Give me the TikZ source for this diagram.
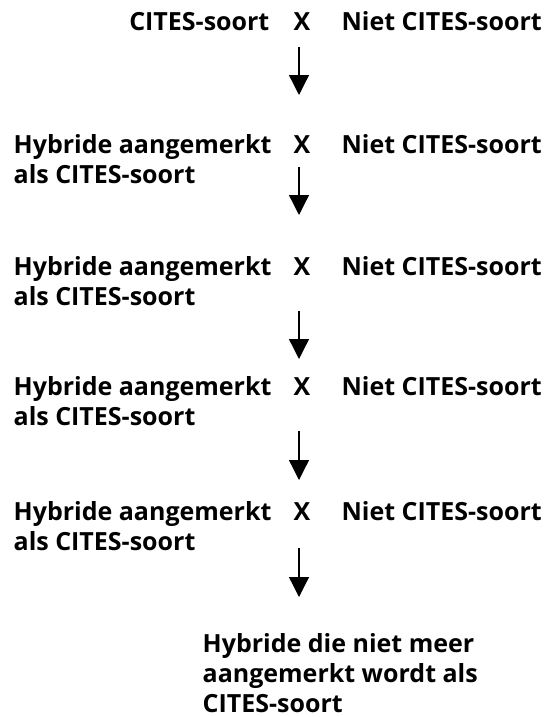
\documentclass[tikz,border=0pt]{standalone}
\usepackage{fontspec}
\setmainfont{Open Sans}
\usetikzlibrary{arrows.meta}
\begin{document}
\begin{tikzpicture}[x=1pt, y=-1pt, >={Triangle[width=20pt,length=20pt]}, line width=1.3pt,
  txt/.style={font=\fontsize{25}{30}\selectfont\bfseries, inner sep=0pt, align=left}]
\useasboundingbox (0,0) rectangle (552,717);
% bovenste rij
\node[txt, anchor=base east] (soort0) at (270,31) {CITES-soort};
\node[txt, anchor=base] (kruis0) at (302,31) {X};
\node[txt, anchor=base west] (niet0) at (341,31) {Niet CITES-soort};
% hybriden (base = laatste regel)
\foreach \y [count=\i] in {153,275,395,520}{
  \node[txt, anchor=base west] (soort\i) at (13,\y+30) {Hybride aangemerkt\\als CITES-soort};
  \node[txt, anchor=base] (kruis\i) at (302,\y) {X};
  \node[txt, anchor=base west] (niet\i) at (341,\y) {Niet CITES-soort};
}
\node[txt, anchor=base west] (eind) at (202,712) {Hybride die niet meer\\aangemerkt wordt als\\CITES-soort};
% pijlen
\foreach \a/\b [count=\i] in {47/95, 167/215, 311/359, 431/480, 548/597}{
  \coordinate (van\i) at (299,\a);
  \coordinate (naar\i) at (299,\b);
  \draw[->] (van\i) -- (naar\i);
}
\end{tikzpicture}
\end{document}
